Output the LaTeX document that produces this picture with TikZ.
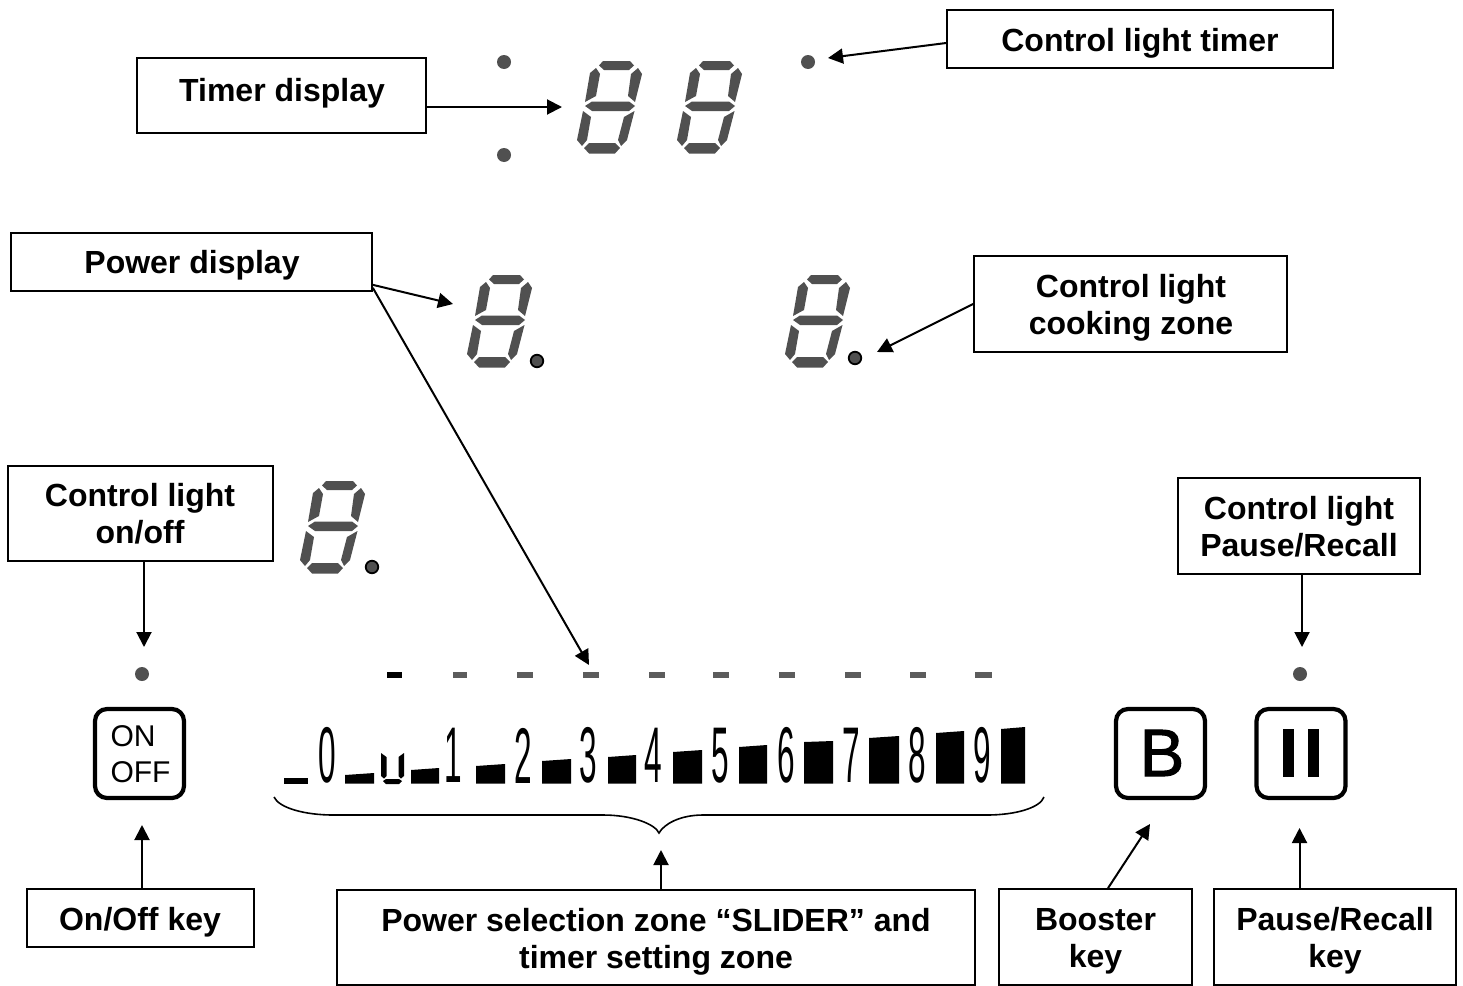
\documentclass[tikz,border=0pt]{standalone}
\usepackage{graphicx}
\usepackage{fontspec}
\setmainfont{Liberation Sans}
\newfontface\fatB[FakeBold=1.5]{Liberation Sans}
\usetikzlibrary{arrows.meta}
\definecolor{seggray}{HTML}{505050}
\definecolor{dashgray}{HTML}{5c5c5c}
\tikzset{
  labelbox/.style={draw=black,line width=1.7pt,fill=white,inner sep=0pt,minimum width=#1},
  boxtext/.style={font=\fontsize{32}{37}\selectfont\bfseries,align=center,inner sep=0pt,text=black},
  arr/.style={line width=2pt,-{Triangle[length=15pt,width=15pt]}},
  keybox/.style={draw=black,line width=4.2pt,rounded corners=12pt,minimum width=89pt,minimum height=89pt,inner sep=0pt},
  lamp/.style={circle,fill=seggray,minimum size=14pt,inner sep=0pt},
  rlamp/.style={circle,fill=seggray,draw=black,line width=1.8pt,minimum size=12.5pt,inner sep=0pt},
  digitt/.style={font=\fontsize{79}{79}\selectfont,inner sep=0pt,text=black},
  segdig/.pic={
    \fill[seggray] (22,4.5)--(26,0)--(53,0)--(57,4.5)--(52,9)--(27,9)--cycle;
    \fill[seggray] (61,7)--(65,13)--(58,41)--(51,35)--(54,13)--cycle;
    \fill[seggray] (19,7)--(23,13)--(19,35)--(8,41)--(13,12)--cycle;
    \fill[seggray] (8,45)--(15,40.5)--(52,40.5)--(58,45)--(52,50)--(15,50)--cycle;
    \fill[seggray] (6,50)--(14,56)--(10,79)--(5,85)--(0,79)--cycle;
    \fill[seggray] (57.5,50)--(50,79)--(44,85)--(41,79)--(47,56)--cycle;
    \fill[seggray] (7,87)--(12,82)--(38,82)--(43,87)--(38,92.5)--(12,92.5)--cycle;
  }
}
\newcommand{\sbar}[4]{\fill[black] (#1,783.5)--(#1,#3)--(#2,#4)--(#2,783.5)--cycle;}
\newcommand{\sdash}[3]{\fill[#3] (#1,672)rectangle(#2,678);}
\begin{document}
\begin{tikzpicture}[x=1pt,y=-1pt]
\useasboundingbox[fill=white] (0,0) rectangle (1463,985);

% seven-segment displays
\pic at (577,61) {segdig};
\pic at (677,61) {segdig};
\pic at (467,275) {segdig};
\pic at (785,275) {segdig};
\pic at (300,481) {segdig};

% lamps
\node[lamp] (tl1) at (504,62) {};
\node[lamp] (tl2) at (504,155) {};
\node[lamp] (tl3) at (808,62) {};
\node[lamp] (onl) at (142,674) {};
\node[lamp] (pal) at (1300,674) {};
\node[rlamp] (pw1) at (537,361) {};
\node[rlamp] (pw2) at (855,358) {};
\node[rlamp] (pw3) at (372,567) {};

% dashes
\sdash{387}{402}{black}
\sdash{453}{467}{dashgray}
\sdash{517}{533}{dashgray}
\sdash{583}{599}{dashgray}
\sdash{649}{665}{dashgray}
\sdash{713}{729}{dashgray}
\sdash{779}{795}{dashgray}
\sdash{845}{861}{dashgray}
\sdash{910}{926}{dashgray}
\sdash{975}{992}{dashgray}

% slider bars
\sbar{284}{308}{778}{778}
\sbar{345}{374}{775}{773}
\sbar{411}{439}{770}{768}
\sbar{476}{505}{766}{764}
\sbar{542}{571}{761}{759}
\sbar{608}{636}{757}{755}
\sbar{673}{702}{752}{750}
\sbar{739}{767}{747}{745}
\sbar{804}{833}{742}{741}
\sbar{869}{899}{738}{736}
\sbar{936}{964}{733}{731}
\sbar{1001}{1025}{729}{727}

% slider digits
\node[digitt] (d0) at (327,755.5) {\scalebox{.4}[1]{0}};
\node[digitt] (d1) at (453,755.5) {\scalebox{.4}[1]{1}};
\node[digitt] (d2) at (523.5,755.5) {\scalebox{.4}[1]{2}};
\node[digitt] (d3) at (588.5,755.5) {\scalebox{.4}[1]{3}};
\node[digitt] (d4) at (653,755.5) {\scalebox{.4}[1]{4}};
\node[digitt] (d5) at (720,755.5) {\scalebox{.4}[1]{5}};
\node[digitt] (d6) at (786,755.5) {\scalebox{.4}[1]{6}};
\node[digitt] (d7) at (851,755.5) {\scalebox{.4}[1]{7}};
\node[digitt] (d8) at (917,755.5) {\scalebox{.4}[1]{8}};
\node[digitt] (d9) at (982.5,755.5) {\scalebox{.4}[1]{9}};

% u glyph
\fill[black] (381,753)--(386.5,757)--(386.5,776)--(384,778.5)--(381,776)--cycle;
\fill[black] (404,753)--(398.5,757)--(398.5,776)--(401,778.5)--(404,776)--cycle;
\fill[black] (383,781)--(386,779)--(399,779)--(402,781)--(399,784)--(386,784)--cycle;

% brace
\draw[line width=1.6pt] (274,797) .. controls (279,808) and (305,815) .. (333,815) -- (603,815) .. controls (632,815) and (655,824) .. (659,833) .. controls (664,824) and (680,815) .. (703,815) -- (987,815) .. controls (1015,815) and (1040,808) .. (1044,797);

% keys
\node[keybox] (onkey) at (139.5,753.5) {};
\node[font=\fontsize{30}{36}\selectfont,align=left,inner sep=0pt] (ontxt) at (140.5,754) {ON\\OFF};
\node[keybox] (bkey) at (1160.5,753.5) {};
\node[font=\fontsize{67}{67}\fatB,inner sep=0pt] (btxt) at (1162,753) {B};
\node[keybox] (pkey) at (1301,753.5) {};
\fill[black] (1283,729) rectangle (1294,777);
\fill[black] (1308,729) rectangle (1319,777);

% label boxes
\node[labelbox=289pt,minimum height=75pt] (timerbox) at (281.5,95.5) {};
\node[boxtext] (timertxt) at (282,93) {Timer display};
\node[labelbox=386pt,minimum height=58pt] (ctimerbox) at (1140,39) {};
\node[boxtext] (ctimertxt) at (1140,43) {Control light timer};
\node[labelbox=361pt,minimum height=58pt] (powerbox) at (191.5,262) {};
\node[boxtext] (powertxt) at (192,265) {Power display};
\node[labelbox=313pt,minimum height=96pt] (czonebox) at (1130.5,304) {};
\node[boxtext] (czonetxt) at (1131,307.5) {Control light\\cooking zone};
\node[labelbox=265pt,minimum height=95pt] (onlbox) at (140.5,513.5) {};
\node[boxtext] (onltxt) at (140,513.5) {Control light\\on/off};
\node[labelbox=242pt,minimum height=96pt] (paubox) at (1299,526) {};
\node[boxtext] (pautxt) at (1299,526.5) {Control light\\Pause/Recall};
\node[labelbox=227pt,minimum height=58pt] (onkbox) at (140.5,918) {};
\node[boxtext] (onktxt) at (140,922) {On/Off key};
\node[labelbox=638pt,minimum height=95pt] (slidebox) at (656,937.5) {};
\node[boxtext] (slidetxt) at (656,941.5) {Power selection zone “SLIDER” and\\timer setting zone};
\node[labelbox=193pt,minimum height=96pt] (boobox) at (1095.5,937) {};
\node[boxtext] (bootxt) at (1095.5,941) {Booster\\key};
\node[labelbox=242pt,minimum height=96pt] (pkbox) at (1335,937) {};
\node[boxtext] (pktxt) at (1335,941) {Pause/Recall\\key};

% free connector ends
\coordinate (atimer) at (562,107);
\coordinate (actimer) at (828,58);
\coordinate (apower) at (453,304);
\coordinate (aslider) at (589,665);
\coordinate (aczone) at (877,352);
\coordinate (aonl) at (144,647);
\coordinate (apau) at (1302,647);
\coordinate (aonk) at (142,825);
\coordinate (asl) at (661,850);
\coordinate (aboo) at (1150,824);
\coordinate (apk) at (1299.5,828);

% connectors
\draw[arr] (timerbox.east |- atimer) -- (atimer);
\draw[arr] ([yshift=-4pt]ctimerbox.west) -- (actimer);
\draw[arr] ([yshift=7pt]powerbox.south east) -- (apower);
\draw[arr] ([yshift=4pt]powerbox.south east) -- (aslider);
\draw[arr] (czonebox.west) -- (aczone);
\draw[arr] (onlbox.south -| aonl) -- (aonl);
\draw[arr] (paubox.south -| apau) -- (apau);
\draw[arr] (onkbox.north -| aonk) -- (aonk);
\draw[arr] (slidebox.north -| asl) -- (asl);
\draw[arr] ([xshift=12.5pt]boobox.north) -- (aboo);
\draw[arr] (pkbox.north -| apk) -- (apk);
\end{tikzpicture}
\end{document}
